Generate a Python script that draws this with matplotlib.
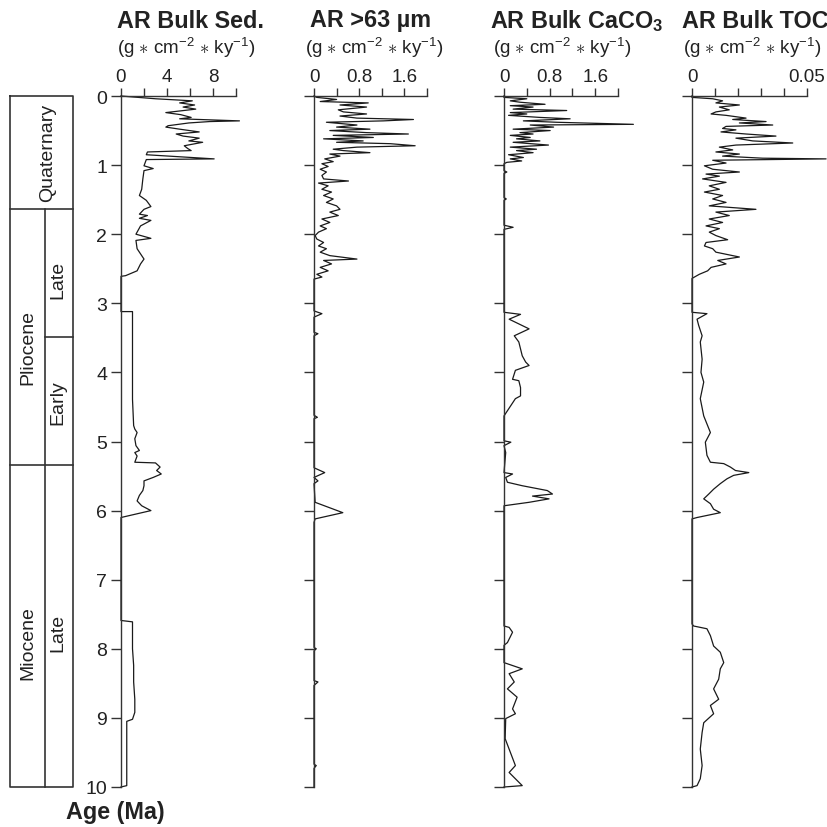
import numpy as np
import matplotlib
matplotlib.use("Agg")
import matplotlib.pyplot as plt

plt.rcParams['font.family'] = ['Liberation Sans', 'DejaVu Sans']
plt.rcParams['mathtext.fontset'] = 'custom'
plt.rcParams['mathtext.rm'] = 'Liberation Sans'
plt.rcParams['mathtext.bf'] = 'Liberation Sans:bold'

# ---- data (age in Ma, accumulation rate in g cm-2 ky-1) ----
sed_age = [0.0, 0.04, 0.07, 0.10, 0.13, 0.16, 0.19, 0.24, 0.27, 0.31, 0.33, 0.36, 0.37, 0.39, 0.43,
           0.45, 0.48, 0.52, 0.55, 0.58, 0.61, 0.65, 0.67, 0.72, 0.76, 0.79, 0.81, 0.85, 0.91, 0.92,
           1.01, 1.05, 1.08, 1.20, 1.35, 1.44, 1.51, 1.60, 1.64, 1.71, 1.73, 1.77, 1.80, 1.88, 2.00,
           2.06, 2.09, 2.21, 2.36, 2.43, 2.53, 2.60, 2.61,
           3.12, 3.12, 3.42, 3.90, 4.39, 4.77, 4.82, 4.87, 4.96, 5.06, 5.13, 5.16, 5.21, 5.30, 5.31,
           5.37, 5.42, 5.47, 5.52, 5.57, 5.64, 5.71, 5.78, 5.86, 5.93, 6.00, 6.10,
           7.59, 7.61, 7.76, 8.00, 8.24, 8.48, 8.73, 8.92, 9.02, 9.05, 9.98, 10.0]
sed_val = [0, 3.0, 6.2, 5.1, 6.4, 5.4, 6.5, 3.9, 5.2, 6.1, 5.1, 10.3, 7.7, 5.9, 4.1,
           3.9, 5.1, 6.8, 4.8, 5.4, 6.8, 5.9, 7.1, 5.5, 5.8, 6.1, 2.3, 2.2, 8.1, 2.2,
           2.0, 2.8, 2.0, 1.9, 1.8, 1.6, 2.2, 2.6, 2.0, 1.6, 2.3, 1.6, 2.6, 1.7, 1.3,
           2.6, 1.3, 1.4, 2.0, 1.7, 1.4, 0.4, 0,
           0, 1.0, 1.0, 1.0, 1.0, 1.1, 1.2, 1.4, 1.2, 1.3, 1.6, 1.2, 1.4, 1.2, 3.0,
           3.4, 3.1, 3.5, 2.8, 2.0, 2.0, 1.9, 1.6, 1.4, 1.8, 2.6, 0,
           0, 1.0, 1.0, 1.0, 1.1, 1.1, 1.2, 1.2, 1.0, 0.5, 0.5, 0]

coarse_age = [0.0, 0.02, 0.05, 0.08, 0.10, 0.13, 0.16, 0.20, 0.23, 0.26, 0.29, 0.32, 0.34, 0.36, 0.38,
              0.42, 0.45, 0.48, 0.50, 0.53, 0.55, 0.57, 0.60, 0.62, 0.65, 0.67, 0.69, 0.72, 0.74,
              0.77, 0.79, 0.82, 0.84, 0.87, 0.91, 0.95, 0.98, 1.02, 1.06, 1.10, 1.15, 1.20, 1.23,
              1.26, 1.30, 1.35, 1.39, 1.44, 1.49, 1.54, 1.59, 1.64, 1.68, 1.73, 1.78, 1.83, 1.88,
              1.92, 1.97, 2.02, 2.07, 2.12, 2.17, 2.21, 2.26, 2.31, 2.36, 2.38, 2.43, 2.48, 2.53,
              2.58, 2.62, 2.65,
              3.11, 3.15, 3.20, 3.42, 3.44, 3.47, 4.62, 4.65, 4.67, 5.38, 5.45, 5.52, 5.57, 5.61,
              5.88, 6.03, 6.12, 6.17, 7.98, 8.00, 8.03, 8.46, 8.48, 8.53, 9.67, 9.69, 9.73, 10.0]
coarse_val = [0, 0.05, 0.40, 0.11, 0.96, 0.46, 0.93, 0.43, 0.52, 0.93, 0.46, 0.76, 1.76, 1.23, 0.22,
              0.76, 0.40, 0.99, 0.28, 0.93, 1.67, 0.34, 1.05, 0.17, 0.87, 0.40, 1.35, 1.79, 0.76,
              0.34, 0.52, 0.99, 0.28, 0.46, 0.19, 0.34, 0.14, 0.25, 0.11, 0.22, 0.14, 0.17, 0.61,
              0.08, 0.25, 0.14, 0.31, 0.17, 0.34, 0.22, 0.40, 0.46, 0.28, 0.43, 0.14, 0.28, 0.11,
              0.22, 0.08, 0.02, 0.05, 0.17, 0.08, 0.22, 0.11, 0.28, 0.76, 0.17, 0.31, 0.11, 0.25,
              0.05, 0.14, 0,
              0, 0.14, 0, 0, 0.07, 0, 0, 0.06, 0, 0, 0.19, 0, 0.07, 0,
              0.02, 0.51, 0.02, 0, 0, 0.04, 0, 0, 0.07, 0, 0, 0.04, 0, 0]

caco3_age = [0.0, 0.02, 0.04, 0.07, 0.09, 0.12, 0.14, 0.16, 0.19, 0.21, 0.24, 0.26, 0.28, 0.31, 0.33,
             0.36, 0.38, 0.41, 0.42, 0.45, 0.48, 0.50, 0.53, 0.55, 0.57, 0.60, 0.62, 0.65, 0.67,
             0.71, 0.74, 0.77, 0.79, 0.82, 0.85, 0.89, 0.91, 0.94, 0.96, 0.98,
             1.08, 1.10, 1.12, 1.47, 1.49, 1.51, 1.87, 1.90, 1.93,
             3.13, 3.16, 3.23, 3.37, 3.47, 3.56, 3.76, 3.85, 3.90, 3.97, 4.10, 4.12, 4.22, 4.34,
             4.38, 4.63, 4.99, 5.01, 5.06, 5.16, 5.45, 5.47, 5.52, 5.59, 5.64, 5.71, 5.76, 5.79,
             5.83, 5.88, 5.93,
             7.67, 7.69, 7.76, 7.91, 7.95, 8.20, 8.29, 8.36, 8.48, 8.58, 8.70, 8.87, 8.94, 9.01,
             9.30, 9.69, 9.79, 9.98, 10.0]
caco3_val = [0, 0, 0.40, 0.11, 0.28, 0.72, 0.11, 0.51, 0.16, 1.10, 0.11, 0.40, 0.08, 0.63, 1.16,
             0.34, 0.92, 2.27, 0.46, 0.87, 0.16, 0.81, 0.28, 0.51, 0.11, 0.46, 0.22, 0.63, 0.16,
             0.78, 0.11, 0.57, 0.22, 0.51, 0.08, 0.34, 0.11, 0.31, 0.05, 0,
             0, 0.05, 0, 0, 0.04, 0, 0, 0.16, 0,
             0, 0.29, 0.09, 0.44, 0.18, 0.26, 0.32, 0.38, 0.44, 0.20, 0.15, 0.26, 0.29, 0.29,
             0.20, 0, 0, 0.12, 0, 0.03, 0, 0.15, 0.03, 0.06, 0.32, 0.76, 0.85, 0.50,
             0.79, 0.44, 0,
             0, 0.09, 0.15, 0.06, 0, 0, 0.32, 0.09, 0.18, 0.06, 0.23, 0.15, 0.20, 0.03,
             0.02, 0.20, 0.09, 0.32, 0]

toc_age = [0.0, 0.02, 0.04, 0.07, 0.10, 0.13, 0.16, 0.20, 0.23, 0.26, 0.28, 0.32, 0.34, 0.37, 0.39,
           0.42, 0.44, 0.47, 0.49, 0.52, 0.55, 0.58, 0.61, 0.65, 0.68, 0.71, 0.74, 0.78, 0.81,
           0.84, 0.87, 0.90, 0.91, 0.93, 0.97, 1.01, 1.06, 1.10, 1.13, 1.16, 1.20, 1.25, 1.30,
           1.35, 1.39, 1.44, 1.49, 1.54, 1.59, 1.64, 1.68, 1.73, 1.78, 1.83, 1.88, 1.92, 1.97,
           2.02, 2.08, 2.12, 2.17, 2.21, 2.26, 2.33, 2.38, 2.43, 2.48, 2.53, 2.58, 2.64,
           3.13, 3.15, 3.23, 3.32, 3.47, 3.56, 3.81, 4.00, 4.14, 4.38, 4.63, 4.87, 5.01, 5.20,
           5.30, 5.32, 5.37, 5.42, 5.45, 5.49, 5.54, 5.61, 5.69, 5.76, 5.83, 5.90, 5.98, 6.03,
           6.10, 6.12,
           7.64, 7.67, 7.71, 7.81, 7.96, 8.05, 8.20, 8.29, 8.44, 8.58, 8.73, 8.82, 8.94, 9.07,
           9.21, 9.45, 9.69, 9.88, 9.98, 10.0]
toc_val = [0, 0, 0.0090, 0.0133, 0.0104, 0.0206, 0.0119, 0.0162, 0.0104, 0.0083, 0.0148, 0.0235,
           0.0177, 0.0322, 0.0206, 0.0351, 0.0148, 0.0133, 0.0191, 0.0126, 0.0235, 0.0365, 0.0191,
           0.0264, 0.0438, 0.0191, 0.0119, 0.0177, 0.0104, 0.0206, 0.0133, 0.0307, 0.0583, 0.0090,
           0.0148, 0.0054, 0.0090, 0.0206, 0.0061, 0.0119, 0.0046, 0.0148, 0.0075, 0.0119, 0.0054,
           0.0133, 0.0090, 0.0148, 0.0075, 0.0278, 0.0104, 0.0162, 0.0075, 0.0133, 0.0061, 0.0119,
           0.0075, 0.0104, 0.0155, 0.0061, 0.0054, 0.0090, 0.0104, 0.0206, 0.0112, 0.0148, 0.0083,
           0.0068, 0.0032, 0,
           0, 0.0065, 0.0022, 0.0029, 0.0044, 0.0036, 0.0044, 0.0039, 0.0051, 0.0036, 0.0051,
           0.0080, 0.0058, 0.0065, 0.0080, 0.0138, 0.0167, 0.0189, 0.0247, 0.0181, 0.0152, 0.0123,
           0.0094, 0.0073, 0.0051, 0.0080, 0.0094, 0.0123, 0.0022, 0,
           0, 0.0007, 0.0065, 0.0080, 0.0094, 0.0123, 0.0138, 0.0123, 0.0116, 0.0094, 0.0116,
           0.0080, 0.0094, 0.0051, 0.0044, 0.0036, 0.0044, 0.0036, 0.0022, 0]

titles = ['AR Bulk Sed.', 'AR >63 µm', r'AR Bulk CaCO$_\mathbf{3}$', 'AR Bulk TOC']
unit = r'(g $\ast$ cm$^{-2}$ $\ast$ ky$^{-1}$)'
xmax = [10, 2.0, 2.0, 0.05]
xticks = [[0, 2, 4, 6, 8, 10], [0, 0.4, 0.8, 1.2, 1.6, 2.0],
          [0, 0.4, 0.8, 1.2, 1.6, 2.0], [0, 0.01, 0.02, 0.03, 0.04, 0.05]]
xticklabels = [['0', '', '4', '', '8', ''], ['0', '', '0.8', '', '1.6', ''],
               ['0', '', '0.8', '', '1.6', ''], ['0', '', '', '', '', '0.05']]
ages = [sed_age, coarse_age, caco3_age, toc_age]
vals = [sed_val, coarse_val, caco3_val, toc_val]

# stratigraphic column
bounds = [1.63, 3.49, 5.34]
epochs = [('Quaternary', 0.59, 0.815), ('Pliocene', 0.29, 3.62), ('Miocene', 0.29, 7.9)]
subs = [('Late', 0.76, 2.65), ('Early', 0.76, 4.43), ('Late', 0.76, 7.76)]

W, H = 827, 828
fig = plt.figure(figsize=(8.27, 8.28), dpi=100)
ink = '#222222'
lc = '#333333'

lefts = [121, 314, 504, 692]
widths = [115, 113, 114, 115]
title_x = [117, 310, 490, 682]
unit_x = [117, 305, 493, 683]
top, bot = 97, 788

for i in range(4):
    ax = fig.add_axes([lefts[i] / W, 1 - bot / H, widths[i] / W, (bot - top) / H])
    ax.plot(vals[i], ages[i], color='#1a1a1a', lw=0.9, clip_on=False)
    ax.set_xlim(0, xmax[i])
    ax.set_ylim(10, 0)
    for s in ['right', 'bottom']:
        ax.spines[s].set_visible(False)
    for s in ['left', 'top']:
        ax.spines[s].set_color(lc)
        ax.spines[s].set_linewidth(1.0)
    ax.xaxis.tick_top()
    ax.set_xticks(xticks[i])
    ax.set_xticklabels(xticklabels[i])
    ax.set_yticks(range(0, 11))
    ax.tick_params(axis='x', direction='out', length=6, width=1.0, color=lc,
                   labelsize=13.5, labelcolor=ink, pad=2)
    ax.tick_params(axis='y', direction='out', length=7, width=1.0, color=lc,
                   labelsize=14, labelcolor=ink, pad=3)
    if i > 0:
        ax.set_yticklabels([])
    ax.patch.set_alpha(0)
    fig.text(title_x[i] / W, 1 - 21 / H, titles[i], fontsize=16.8, fontweight='bold',
             color=ink, ha='left', va='center')
    fig.text(unit_x[i] / W, 1 - 48 / H, unit, fontsize=13.5, color=ink,
             ha='left', va='center')

# stratigraphic column
cx0, cx1 = 10, 73
sax = fig.add_axes([cx0 / W, 1 - bot / H, (cx1 - cx0) / W, (bot - top) / H])
sax.set_xlim(0, 1)
sax.set_ylim(10, 0)
sax.axis('off')
kw = dict(color=lc, lw=1.2, clip_on=False)
sax.plot([0, 1, 1, 0, 0], [0, 0, 10, 10, 0], **kw)
sax.plot([0, 1], [bounds[0], bounds[0]], **kw)
sax.plot([0.556, 1], [bounds[1], bounds[1]], **kw)
sax.plot([0, 1], [bounds[2], bounds[2]], **kw)
sax.plot([0.556, 0.556], [bounds[0], 10], **kw)
for name, x, y in epochs + subs:
    sax.text(x, y, name, rotation=90, ha='center', va='center', fontsize=14, color=ink)

fig.text(115 / W, 1 - 813 / H, 'Age (Ma)', fontsize=16.8, fontweight='bold',
         color=ink, ha='center', va='center')

fig.savefig('out.png', dpi=100, facecolor='white')
